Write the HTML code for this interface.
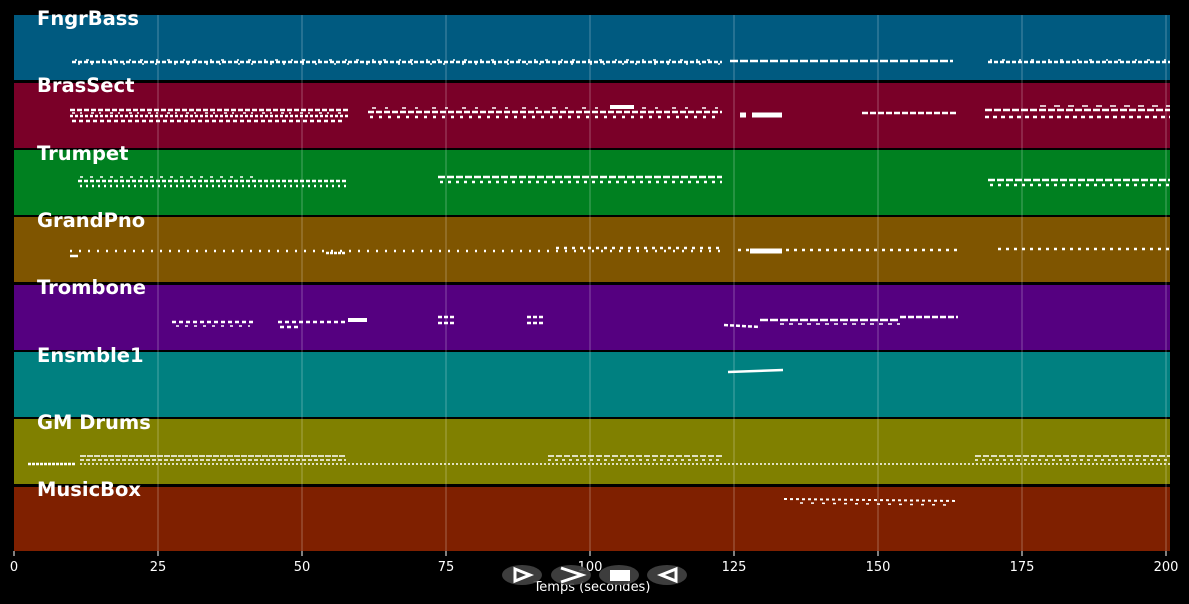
<!DOCTYPE html>
<html><head><meta charset="utf-8"><style>
html,body{margin:0;padding:0;background:#000;}
svg{display:block;font-family:"DejaVu Sans","Liberation Sans",sans-serif;}
</style></head><body>
<svg width="1189" height="604" viewBox="0 0 1189 604">
<rect width="1189" height="604" fill="#000"/>
<rect x="14" y="15" width="1156" height="65" fill="#005a80"/>
<rect x="14" y="83" width="1156" height="65" fill="#7a0028"/>
<rect x="14" y="150" width="1156" height="65" fill="#008020"/>
<rect x="14" y="217" width="1156" height="65" fill="#7f5500"/>
<rect x="14" y="285" width="1156" height="65" fill="#550080"/>
<rect x="14" y="352" width="1156" height="65" fill="#008080"/>
<rect x="14" y="419" width="1156" height="65" fill="#808000"/>
<rect x="14" y="487" width="1156" height="64" fill="#7f2000"/>
<g stroke="#ffffff" stroke-opacity="0.3" stroke-width="1">
<line x1="158" y1="15" x2="158" y2="551"/><line x1="302" y1="15" x2="302" y2="551"/>
<line x1="446" y1="15" x2="446" y2="551"/><line x1="590" y1="15" x2="590" y2="551"/>
<line x1="734" y1="15" x2="734" y2="551"/><line x1="878" y1="15" x2="878" y2="551"/>
<line x1="1022" y1="15" x2="1022" y2="551"/><line x1="1166" y1="15" x2="1166" y2="551"/>
</g>
<g stroke="#fff" fill="none" stroke-width="2.5">
<!-- FngrBass -->
<line x1="72" y1="62" x2="722" y2="62" stroke-dasharray="4 2"/>
<line x1="75" y1="60" x2="720" y2="60" stroke-width="1.5" stroke-dasharray="2 9 3 13"/>
<line x1="78" y1="64" x2="720" y2="64" stroke-width="1.5" stroke-dasharray="2 11 2 17"/>
<line x1="730" y1="61" x2="953" y2="61" stroke-dasharray="8 2"/>
<line x1="988" y1="62" x2="1170" y2="62" stroke-dasharray="4 2"/>
<line x1="990" y1="60" x2="1170" y2="60" stroke-width="1.5" stroke-dasharray="2 10 3 14"/>
<!-- BrasSect -->
<line x1="70" y1="110" x2="348" y2="110" stroke-dasharray="5 2"/>
<line x1="70" y1="116" x2="348" y2="116" stroke-dasharray="3 2"/>
<line x1="72" y1="121" x2="345" y2="121" stroke-dasharray="4 3"/>
<line x1="72" y1="113" x2="345" y2="113" stroke-width="1.5" stroke-dasharray="3 5 2 9"/>
<line x1="368" y1="112" x2="722" y2="112" stroke-dasharray="6 2"/>
<line x1="370" y1="117" x2="720" y2="117" stroke-dasharray="3 6"/>
<line x1="372" y1="108" x2="720" y2="108" stroke-width="1.5" stroke-dasharray="4 9 3 14"/>
<line x1="610" y1="107" x2="634" y2="107" stroke-width="4"/>
<line x1="740" y1="115" x2="782" y2="115" stroke-width="5" stroke-dasharray="6 6 40 0"/>
<line x1="862" y1="113" x2="958" y2="113" stroke-dasharray="6 2"/>
<line x1="985" y1="110" x2="1170" y2="110" stroke-dasharray="7 2"/>
<line x1="985" y1="117" x2="1170" y2="117" stroke-dasharray="4 4"/>
<line x1="1040" y1="106" x2="1170" y2="106" stroke-width="1.5" stroke-dasharray="6 8"/>
<!-- Trumpet -->
<line x1="78" y1="181" x2="346" y2="181" stroke-dasharray="4 2"/>
<line x1="80" y1="186" x2="346" y2="186" stroke-dasharray="2 4"/>
<line x1="80" y1="177" x2="256" y2="177" stroke-width="1.5" stroke-dasharray="3 7"/>
<line x1="438" y1="177" x2="722" y2="177" stroke-dasharray="7 2"/>
<line x1="440" y1="182" x2="722" y2="182" stroke-dasharray="3 5"/>
<line x1="988" y1="180" x2="1170" y2="180" stroke-dasharray="7 2"/>
<line x1="990" y1="185" x2="1170" y2="185" stroke-dasharray="3 5"/>
<!-- GrandPno -->
<line x1="70" y1="251" x2="722" y2="251" stroke-dasharray="2 7"/>
<line x1="70" y1="256" x2="78" y2="256"/>
<line x1="326" y1="253" x2="346" y2="253" stroke-dasharray="3 1"/>
<line x1="556" y1="248" x2="722" y2="248" stroke-dasharray="3 5"/>
<line x1="738" y1="250" x2="958" y2="250" stroke-dasharray="3 5"/>
<line x1="750" y1="251" x2="782" y2="251" stroke-width="5"/>
<line x1="998" y1="249" x2="1170" y2="249" stroke-dasharray="3 5"/>
<!-- Trombone -->
<line x1="172" y1="322" x2="254" y2="322" stroke-dasharray="4 3"/>
<line x1="176" y1="326" x2="250" y2="326" stroke-width="1.5" stroke-dasharray="3 6"/>
<line x1="278" y1="322" x2="346" y2="322" stroke-dasharray="4 3"/>
<line x1="280" y1="327" x2="300" y2="327" stroke-dasharray="4 3"/>
<line x1="348" y1="320" x2="367" y2="320" stroke-width="4"/>
<line x1="438" y1="317" x2="455" y2="317" stroke-dasharray="4 2"/>
<line x1="438" y1="323" x2="455" y2="323" stroke-dasharray="4 2"/>
<line x1="527" y1="317" x2="544" y2="317" stroke-dasharray="4 2"/>
<line x1="527" y1="323" x2="544" y2="323" stroke-dasharray="4 2"/>
<line x1="724" y1="325" x2="760" y2="327" stroke-dasharray="4 2"/>
<line x1="760" y1="320" x2="900" y2="320" stroke-dasharray="8 2"/>
<line x1="780" y1="324" x2="900" y2="324" stroke-width="1.5" stroke-dasharray="4 5"/>
<line x1="900" y1="317" x2="958" y2="317" stroke-dasharray="6 2"/>
<!-- Ensmble1 -->
<line x1="728" y1="372" x2="783" y2="370" />
<!-- GM Drums -->
<line x1="28" y1="464" x2="76" y2="464" stroke-dasharray="3 1"/>
<line x1="80" y1="456" x2="346" y2="456" stroke-width="1.5" stroke-dasharray="6 1"/>
<line x1="80" y1="460" x2="346" y2="460" stroke-width="1.5" stroke-dasharray="4 2"/>
<line x1="80" y1="464" x2="1170" y2="464" stroke-width="1.5" stroke-dasharray="2 2"/>
<line x1="548" y1="456" x2="722" y2="456" stroke-width="1.5" stroke-dasharray="6 2"/>
<line x1="548" y1="460" x2="722" y2="460" stroke-width="1.5" stroke-dasharray="3 4"/>
<line x1="975" y1="456" x2="1170" y2="456" stroke-width="1.5" stroke-dasharray="6 2"/>
<line x1="975" y1="460" x2="1170" y2="460" stroke-width="1.5" stroke-dasharray="3 4"/>
<!-- MusicBox -->
<line x1="784" y1="499" x2="958" y2="501" stroke-width="2" stroke-dasharray="3 3"/>
<line x1="800" y1="503" x2="950" y2="505" stroke-width="1.5" stroke-dasharray="3 8"/>
</g>
<g fill="#fff" font-weight="bold" font-size="19.5">
<text x="37" y="25">FngrBass</text>
<text x="37" y="92">BrasSect</text>
<text x="37" y="160">Trumpet</text>
<text x="37" y="227">GrandPno</text>
<text x="37" y="294">Trombone</text>
<text x="37" y="362">Ensmble1</text>
<text x="37" y="429">GM Drums</text>
<text x="37" y="496">MusicBox</text>
</g>
<g stroke="#fff" stroke-width="1">
<line x1="14" y1="551" x2="14" y2="556"/><line x1="158" y1="551" x2="158" y2="556"/>
<line x1="302" y1="551" x2="302" y2="556"/><line x1="446" y1="551" x2="446" y2="556"/>
<line x1="590" y1="551" x2="590" y2="556"/><line x1="734" y1="551" x2="734" y2="556"/>
<line x1="878" y1="551" x2="878" y2="556"/><line x1="1022" y1="551" x2="1022" y2="556"/>
<line x1="1166" y1="551" x2="1166" y2="556"/>
</g>
<g fill="#fff" font-size="13" text-anchor="middle">
<text x="14" y="571">0</text><text x="158" y="571">25</text><text x="302" y="571">50</text>
<text x="446" y="571">75</text><text x="590" y="571">100</text><text x="734" y="571">125</text>
<text x="878" y="571">150</text><text x="1022" y="571">175</text><text x="1166" y="571">200</text>
<text x="592" y="591">Temps (secondes)</text>
</g>
<g fill="#444" fill-opacity="0.9">
<ellipse cx="522" cy="575" rx="20" ry="10"/><ellipse cx="571" cy="575" rx="20" ry="10"/>
<ellipse cx="619" cy="575" rx="20" ry="10"/><ellipse cx="667" cy="575" rx="20" ry="10"/>
</g>
<g stroke="#fff" stroke-width="3" fill="none">
<polygon points="515,569 530,575 515,581"/>
<polyline points="561,568 582,575 561,582"/>
<polygon points="676,569 661,575 676,581"/>
</g>
<rect x="610" y="570" width="20" height="11" fill="#fff"/>
</svg>
</body></html>
